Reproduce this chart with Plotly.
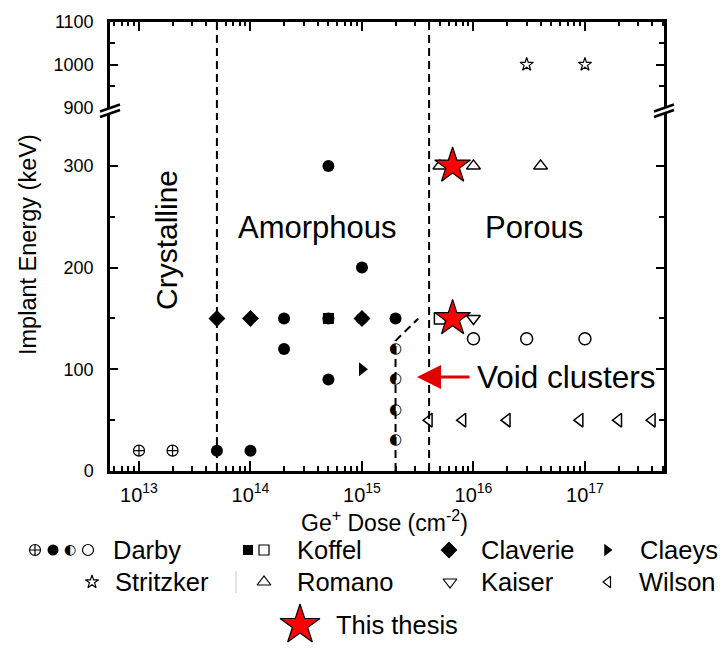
import plotly.graph_objects as go

W, H = 723, 671
FONT = "Liberation Sans, Arial, Helvetica, sans-serif"

# ---------------- data ----------------
darby_cross_dose = [1e13, 2e13]
darby_cross_energy = [20, 20]
darby_filled_dose = [5e13, 1e14, 2e14, 2e14, 5e14, 5e14, 5e14, 1e15, 1e15, 2e15]
darby_filled_energy = [20, 20, 150, 120, 300, 150, 90, 200, 150, 150]
darby_half_dose = [2e15, 2e15, 2e15, 2e15]
darby_half_energy = [120, 90, 60, 30]
darby_open_dose = [1e16, 3e16, 1e17]
darby_open_energy = [130, 130, 130]
koffel_filled_dose = [5e14]
koffel_filled_energy = [150]
koffel_open_dose = [5e15]
koffel_open_energy = [150]
claverie_dose = [5e13, 1e14, 1e15]
claverie_energy = [150, 150, 150]
claeys_dose = [1e15]
claeys_energy = [100]
stritzker_dose = [3e16, 1e17]
stritzker_energy = [1000, 1000]
romano_dose = [5e15, 1e16, 4e16]
romano_energy = [300, 300, 300]
kaiser_dose = [1e16]
kaiser_energy = [150]
wilson_dose = [4e15, 8e15, 2e16, 9e16, 2e17, 4e17]
wilson_energy = [50, 50, 50, 50, 50, 50]
thesis_dose = [6.5e15, 6.5e15]
thesis_energy = [300, 150]

# phase boundaries
crystalline_amorphous_dose = 5e13
amorphous_porous_dose = 4e15
void_boundary_dose = [2e15, 2e15, 3.2e15]
void_boundary_energy = [0, 128, 150]

# axes
x_major = [1e13, 1e14, 1e15, 1e16, 1e17]
x_major_text = ["10<sup>13</sup>", "10<sup>14</sup>", "10<sup>15</sup>", "10<sup>16</sup>", "10<sup>17</sup>"]
x_minor = [k * 10 ** n for n in range(12, 18) for k in range(2, 10)]
y_low_major = [0, 100, 200, 300]
y_low_minor = [50, 150, 250]
y_high_major = [900, 1000, 1100]
y_high_minor = [950, 1050]
y_low_range = [0, 352]
y_high_range = [899, 1100]
x_range_log = [12.740, 17.709]
BREAK = 600  # energies above this go to the upper panel

# ---------------- layout helpers (pixel -> paper) ----------------
def px(p):
    return p / W

def py(p):
    return 1 - p / H

X_DOM = [px(110), px(664)]
Y_LOW_DOM = [py(471), py(113)]
Y_HIGH_DOM = [py(108), py(21.5)]

fig = go.Figure()

def add_series(dose, energy, **kw):
    lo = [(d, e) for d, e in zip(dose, energy) if e < BREAK]
    hi = [(d, e) for d, e in zip(dose, energy) if e >= BREAK]
    for pts, xa, ya in ((lo, "x", "y"), (hi, "x2", "y2")):
        if pts:
            fig.add_trace(go.Scatter(x=[p[0] for p in pts], y=[p[1] for p in pts],
                                     xaxis=xa, yaxis=ya, cliponaxis=False, **kw))

DASH = "8px,5px"
line_kw = dict(mode="lines", line=dict(color="black", width=2, dash=DASH), hoverinfo="skip")
# vertical boundaries spanning both panels
for d in (crystalline_amorphous_dose, amorphous_porous_dose):
    fig.add_trace(go.Scatter(x=[d, d], y=y_low_range, xaxis="x", yaxis="y", **line_kw))
    fig.add_trace(go.Scatter(x=[d, d], y=y_high_range, xaxis="x2", yaxis="y2", **line_kw))
fig.add_trace(go.Scatter(x=void_boundary_dose, y=void_boundary_energy, xaxis="x", yaxis="y", **line_kw))

BLACK = "black"
def mk(symbol, size, filled=True, color=BLACK, lw=1.3):
    if filled:
        return dict(symbol=symbol, size=size, color=color, line=dict(color=BLACK, width=lw))
    return dict(symbol=symbol, size=size, color=BLACK, line=dict(color=BLACK, width=lw))

add_series(darby_cross_dose, darby_cross_energy, mode="markers", marker=mk("circle-cross-open", 11, False, lw=1.2))
add_series(darby_filled_dose, darby_filled_energy, mode="markers", marker=mk("circle", 12, lw=0))
add_series(koffel_filled_dose, koffel_filled_energy, mode="markers", marker=mk("square", 11, lw=0))
add_series(claverie_dose, claverie_energy, mode="markers", marker=mk("diamond", 13, lw=0))
add_series(claeys_dose, claeys_energy, mode="markers", marker=mk("triangle-right", 12, lw=0))
add_series(darby_half_dose, darby_half_energy, mode="text", text=["\u25D0"] * len(darby_half_dose),
           textposition="middle center", textfont=dict(family="DejaVu Sans", size=15, color=BLACK))
add_series(darby_open_dose, darby_open_energy, mode="markers", marker=mk("circle-open", 12, False, lw=1.5))
add_series(koffel_open_dose, koffel_open_energy, mode="markers", marker=mk("square-open", 11, False, lw=1.5))
add_series(stritzker_dose, stritzker_energy, mode="markers", marker=mk("star-open", 10, False, lw=1.2))
add_series(romano_dose, romano_energy, mode="markers", marker=mk("triangle-up-open", 12, False, lw=1.5))
add_series(kaiser_dose, kaiser_energy, mode="markers", marker=mk("triangle-down-open", 12, False, lw=1.5))
add_series(wilson_dose, wilson_energy, mode="markers", marker=mk("triangle-left-open", 12, False, lw=1.5))
add_series(thesis_dose, thesis_energy, mode="markers", marker=mk("star", 27, True, color="#ff0000", lw=1.2))

# ---------------- legend (custom, drawn on a pixel overlay axis) ----------------
LEG_ROWS = [550, 582, 625]
LEGEND = [
    # row, [(x, symbol, size, filled)], label_x, label
    (0, [(35, "circle-cross-open", 11, False), (53, "circle", 11, True), (70, "half", 14, True), (88, "circle-open", 11, False)], 111, "Darby"),
    (0, [(248, "square", 10, True), (264, "square-open", 10, False)], 295, "Koffel"),
    (0, [(449, "diamond", 13, True)], 479, "Claverie"),
    (0, [(607, "triangle-right", 11, True)], 638, "Claeys"),
    (1, [(92, "star-open", 10, False)], 113, "Stritzker"),
    (1, [(264, "triangle-up-open", 12, False)], 295, "Romano"),
    (1, [(450, "triangle-down-open", 12, False)], 479, "Kaiser"),
    (1, [(608, "triangle-left-open", 10, False)], 637, "Wilson"),
    (2, [(300, "star", 30, True)], 334, "This thesis"),
]
annotations = []
for row, syms, lx, label in LEGEND:
    yy = LEG_ROWS[row]
    for sx, sym, size, filled in syms:
        if sym == "half":
            fig.add_trace(go.Scatter(x=[sx], y=[yy], xaxis="x3", yaxis="y3", mode="text", text=["\u25D0"],
                                     textfont=dict(family="DejaVu Sans", size=size, color=BLACK), cliponaxis=False))
        elif label == "This thesis":
            fig.add_trace(go.Scatter(x=[sx], y=[yy], xaxis="x3", yaxis="y3", mode="markers", cliponaxis=False,
                                     marker=mk(sym, size, True, color="#ff0000", lw=1.2)))
        else:
            fig.add_trace(go.Scatter(x=[sx], y=[yy], xaxis="x3", yaxis="y3", mode="markers", cliponaxis=False,
                                     marker=mk(sym, size, True, lw=0) if filled else mk(sym, size, False, lw=1.2)))
    annotations.append(dict(x=px(lx), y=py(yy), xref="paper", yref="paper", text=label, showarrow=False,
                            xanchor="left", yanchor="middle", font=dict(family=FONT, size=25.5, color=BLACK)))

# region labels
region = [
    dict(x=px(166), y=py(240), text="Crystalline", textangle=-90, font=dict(family=FONT, size=30, color=BLACK)),
    dict(x=px(317), y=py(227), text="Amorphous", font=dict(family=FONT, size=31, color=BLACK)),
    dict(x=px(534), y=py(227), text="Porous", font=dict(family=FONT, size=31, color=BLACK)),
    dict(x=px(566), y=py(377), text="Void clusters", font=dict(family=FONT, size=31.5, color=BLACK)),
]
for a in region:
    a.update(xref="paper", yref="paper", showarrow=False, xanchor="center", yanchor="middle")
annotations += region

# arrow
annotations.append(dict(x=px(417), y=py(377), xref="paper", yref="paper", text="", showarrow=True,
                        ax=54, ay=0, arrowcolor="#e00000", arrowwidth=3, arrowhead=2, arrowsize=1.6))
# axis titles
annotations.append(dict(x=px(28), y=py(245), xref="paper", yref="paper", text="Implant Energy (keV)",
                        textangle=-90, showarrow=False, xanchor="center", yanchor="middle",
                        font=dict(family=FONT, size=23.5, color=BLACK)))
annotations.append(dict(x=px(384), y=py(521), xref="paper", yref="paper", text="Ge<sup>+</sup> Dose (cm<sup>-2</sup>)",
                        showarrow=False, xanchor="center", yanchor="middle",
                        font=dict(family=FONT, size=23, color=BLACK)))

# ---------------- shapes: axis break marks, legend separator ----------------
shapes = []
for ax_px in (110, 664):
    for y0 in (111.5, 117):
        shapes.append(dict(type="line", xref="paper", yref="paper", x0=px(ax_px - 10), y0=py(y0),
                           x1=px(ax_px + 10), y1=py(y0 - 7), line=dict(color=BLACK, width=2.5)))
shapes.append(dict(type="line", xref="paper", yref="paper", x0=px(236), x1=px(236), y0=py(571), y1=py(593),
                   line=dict(color="#dddddd", width=1.5)))

tickfont = dict(family=FONT, size=18, color=BLACK)
common_x = dict(type="log", range=x_range_log, domain=X_DOM, showline=True, linecolor=BLACK, linewidth=2.5,
                ticks="inside", ticklen=10, tickwidth=2, tickcolor=BLACK, tickvals=x_major, ticktext=x_major_text,
                minor=dict(ticks="inside", ticklen=5, tickwidth=1.5, tickcolor=BLACK, tickvals=x_minor, showgrid=False),
                showgrid=False, zeroline=False, automargin=False)
common_y = dict(showline=True, linecolor=BLACK, linewidth=2.5, mirror="ticks", ticks="inside", ticklen=8,
                tickwidth=2, tickcolor=BLACK, showgrid=False, zeroline=False, tickfont=tickfont,
                ticklabelstandoff=10, automargin=False)

fig.update_layout(
    width=W, height=H, autosize=False,
    margin=dict(l=0, r=0, t=0, b=0, pad=0),
    paper_bgcolor="white", plot_bgcolor="rgba(0,0,0,0)",
    showlegend=False,
    font=dict(family=FONT, color=BLACK),
    xaxis=dict(anchor="y", tickfont=dict(family=FONT, size=20, color=BLACK), ticklabelstandoff=4, **common_x),
    xaxis2=dict(anchor="y2", side="top", showticklabels=False, **common_x),
    yaxis=dict(anchor="x", domain=Y_LOW_DOM, range=y_low_range, tickvals=y_low_major,
               minor=dict(ticks="inside", ticklen=5, tickwidth=1.5, tickcolor=BLACK, tickvals=y_low_minor), **common_y),
    yaxis2=dict(anchor="x2", domain=Y_HIGH_DOM, range=y_high_range, tickvals=y_high_major,
                minor=dict(ticks="inside", ticklen=5, tickwidth=1.5, tickcolor=BLACK, tickvals=y_high_minor), **common_y),
    xaxis3=dict(anchor="y3", domain=[0, 1], range=[0, W], visible=False, fixedrange=True),
    yaxis3=dict(anchor="x3", domain=[0, 1], range=[H, 0], visible=False, fixedrange=True),
    annotations=annotations,
    shapes=shapes,
)

fig.write_html("out.html")
